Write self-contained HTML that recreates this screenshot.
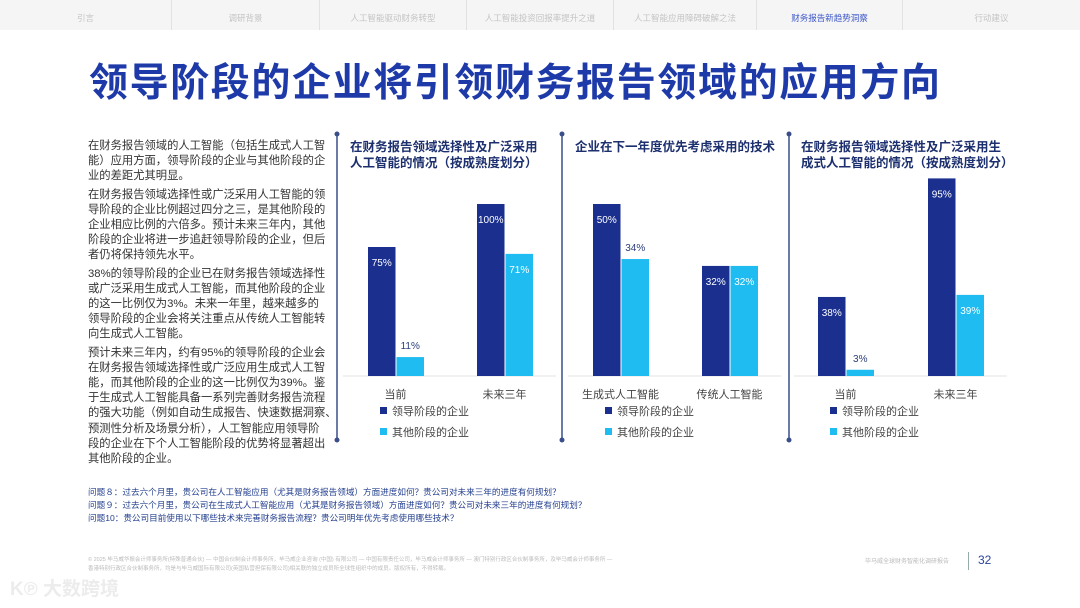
<!DOCTYPE html>
<html><head><meta charset="utf-8">
<style>
*{margin:0;padding:0;box-sizing:border-box}
body{width:1080px;height:608px;background:#fff;position:relative;overflow:hidden;font-family:"Liberation Sans","Noto Sans CJK SC",sans-serif}
.nav{position:absolute;left:0;top:0;width:1080px;height:30px;background:#f5f5f5;display:flex}
.nav div{height:30px;line-height:36px;font-size:8.5px;color:#c4c4c4;text-align:center;border-right:1px solid #e2e2e2}
.nav div.act{color:#3b55c8}
h1{position:absolute;left:89px;top:52px;font-size:39px;color:#1e3aa8;font-weight:bold;letter-spacing:1.6px;white-space:nowrap}
.lt{position:absolute;left:88px;top:139px;width:250px;font-size:11.3px;line-height:15.2px;color:#333}
.lt p{margin-bottom:3px;white-space:nowrap}
.fn{position:absolute;left:88px;top:486px;font-size:8.6px;line-height:13px;color:#25408f;white-space:nowrap}
.ft{position:absolute;left:88px;top:556px;font-size:5.5px;line-height:9px;color:#bbb;white-space:nowrap}
.pg{position:absolute;left:865px;top:556px;font-size:6px;color:#bbb}
.pn{position:absolute;left:978px;top:553px;font-size:12px;color:#2a45a0}
.sep{position:absolute;left:968px;top:552px;width:1px;height:18px;background:#9aa}
.wm{position:absolute;left:10px;top:574px;font-size:19px;color:#ececec;font-weight:bold}
svg{position:absolute;left:0;top:0}
</style></head><body>
<div class="nav">
<div style="width:172px">引言</div>
<div style="width:148px">调研背景</div>
<div style="width:147px">人工智能驱动财务转型</div>
<div style="width:147px">人工智能投资回报率提升之道</div>
<div style="width:143px">人工智能应用障碍破解之法</div>
<div style="width:146px" class="act">财务报告新趋势洞察</div>
<div style="width:177px;border:none">行动建议</div>
</div>
<h1>领导阶段的企业将引领财务报告领域的应用方向</h1>
<div class="lt">
<p>在财务报告领域的人工智能（包括生成式人工智<br>能）应用方面，领导阶段的企业与其他阶段的企<br>业的差距尤其明显。</p>
<p>在财务报告领域选择性或广泛采用人工智能的领<br>导阶段的企业比例超过四分之三，是其他阶段的<br>企业相应比例的六倍多。预计未来三年内，其他<br>阶段的企业将进一步追赶领导阶段的企业，但后<br>者仍将保持领先水平。</p>
<p>38%的领导阶段的企业已在财务报告领域选择性<br>或广泛采用生成式人工智能，而其他阶段的企业<br>的这一比例仅为3%。未来一年里，越来越多的<br>领导阶段的企业会将关注重点从传统人工智能转<br>向生成式人工智能。</p>
<p>预计未来三年内，约有95%的领导阶段的企业会<br>在财务报告领域选择性或广泛应用生成式人工智<br>能，而其他阶段的企业的这一比例仅为39%。鉴<br>于生成式人工智能具备一系列完善财务报告流程<br>的强大功能（例如自动生成报告、快速数据洞察、<br>预测性分析及场景分析），人工智能应用领导阶<br>段的企业在下个人工智能阶段的优势将显著超出<br>其他阶段的企业。</p>
</div>
<div class="fn">问题８：过去六个月里，贵公司在人工智能应用（尤其是财务报告领域）方面进度如何？贵公司对未来三年的进度有何规划？<br>问题９：过去六个月里，贵公司在生成式人工智能应用（尤其是财务报告领域）方面进度如何？贵公司对未来三年的进度有何规划？<br>问题10：贵公司目前使用以下哪些技术来完善财务报告流程？贵公司明年优先考虑使用哪些技术？</div>
<div class="ft">© 2025 毕马威华振会计师事务所(特殊普通合伙) — 中国合伙制会计师事务所，毕马威企业咨询 (中国) 有限公司 — 中国有限责任公司，毕马威会计师事务所 — 澳门特别行政区合伙制事务所，及毕马威会计师事务所 —<br>香港特别行政区合伙制事务所，均是与毕马威国际有限公司(英国私营担保有限公司)相关联的独立成员所全球性组织中的成员。版权所有，不得转载。</div>
<div class="pg">毕马威全球财务智能化调研报告</div>
<div class="sep"></div>
<div class="pn">32</div>
<div class="wm">K℗ 大数跨境</div>
<svg id="ch" width="1080" height="608"></svg>
<script>
const chartTitles=[["在财务报告领域选择性及广泛采用","人工智能的情况（按成熟度划分）"],["企业在下一年度优先考虑采用的技术"],["在财务报告领域选择性及广泛采用生","成式人工智能的情况（按成熟度划分）"]];
const cats1=["当前","未来三年"],lead1=[75,100],other1=[11,71];
const cats2=["生成式人工智能","传统人工智能"],lead2=[50,32],other2=[34,32];
const cats3=["当前","未来三年"],lead3=[38,95],other3=[3,39];
const seriesNames=["领导阶段的企业","其他阶段的企业"];
const NS="http://www.w3.org/2000/svg",svg=document.getElementById("ch");
function mk(t,a,p){const e=document.createElementNS(NS,t);for(const k in a)e.setAttribute(k,a[k]);(p||svg).appendChild(e);return e;}
const panels=[{x:338,g0:368,gap:109,scale:1.72,cats:cats1,lead:lead1,other:other1,lx:380,t:chartTitles[0]},
{x:563,g0:593,gap:109,scale:3.44,cats:cats2,lead:lead2,other:other2,lx:605,t:chartTitles[1]},
{x:789,g0:818,gap:110,scale:2.08,cats:cats3,lead:lead3,other:other3,lx:830,t:chartTitles[2]}];
const base=376,bw=27.5,C1="#1a2f8e",C2="#1ebcf0";
[337,562,789].forEach((x,i)=>{
let l=mk("line",{x1:x,x2:x,y1:134,y2:440,stroke:"#3a4f8a","stroke-width":1.5});


mk("circle",{cx:x,cy:134,r:2.5,fill:"#3a4f8a"});mk("circle",{cx:x,cy:440,r:2.5,fill:"#3a4f8a"});});
panels.forEach((p,pi)=>{
const g=mk("g",{});


p.t.forEach((s,i)=>{const t=mk("text",{x:p.x+12,y:151+i*16,"font-size":12.5,"font-weight":"bold",fill:"#1c2f6e"},g);t.textContent=s;

});
mk("line",{x1:p.x+5,x2:p.x+218,y1:base,y2:base,stroke:"#e3e3e3"},g);
const y=v=>base-v*p.scale;
p.cats.forEach((c,i)=>{
const gx=p.g0+i*p.gap;
[[p.lead[i],C1,gx],[p.other[i],C2,gx+bw+1]].forEach(([v,col,x],si)=>{
const r=mk("rect",{x:x,y:y(v),width:bw,height:base-y(v),fill:col},g);


const inside=(base-y(v))>60&&!(pi==1&&si==1&&i==0);
const t=mk("text",{x:x+bw/2,y:inside?y(v)+19:y(v)-8,"font-size":10,"text-anchor":"middle",fill:inside?"#fff":"#2a3f7a"},g);
t.textContent=v+"%";

});
const ct=mk("text",{x:gx+bw,y:398,"font-size":11,"text-anchor":"middle",fill:"#444"},g);ct.textContent=c;

});
seriesNames.forEach((s,i)=>{
const lg=mk("g",{},g);


mk("rect",{x:p.lx,y:407+i*21,width:7,height:7,fill:i?C2:C1},lg);
const t=mk("text",{x:p.lx+12,y:415+i*21,"font-size":11,fill:"#444"},lg);t.textContent=s;});
});
</script>
</body></html>
